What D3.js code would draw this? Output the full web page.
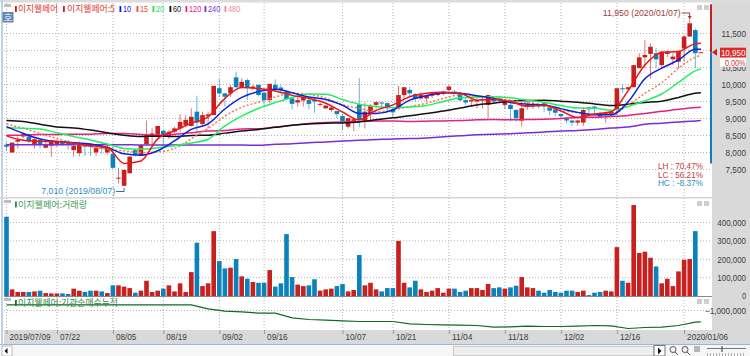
<!DOCTYPE html>
<html>
<meta charset="utf-8">
<head>
  <title>이지웰페어 일봉</title>
</head>
<style>
body { margin: 0; background: #fff; }
svg { display: block; }
text { font-family: "Liberation Sans", sans-serif; font-size: 9px; fill: #333; }
.kr { font-family: "Noto Sans CJK KR", sans-serif; font-size: 9px; }
.axis text { fill: #3c3c3c; font-family: "Liberation Sans", sans-serif; font-size: 9px; }
.axis .domain { display: none; }
.grid { stroke: #b4b4b4; stroke-width: 1; stroke-dasharray: 1,2; fill: none; }
.ma { fill: none; stroke-width: 1.5; }
</style>
<body>
<script src="https://cdnjs.cloudflare.com/ajax/libs/d3/7.8.5/d3.min.js"></script>
<script>

var opens = [8230,8000,8320,8470,8470,8250,8370,8140,8200,8220,8320,8290,8070,7980,8220,8220,8000,8170,8000,7960,
  7230,7020,7390,8070,7900,8240,8490,8520,8640,8490,8610,8710,8810,8780,9200,8840,9070,9100,9890,9740,
  9740,10210,9920,10130,9890,9990,9760,9540,9990,9910,9790,9590,9470,9530,9540,9540,9400,9300,9250,9220,
  9070,8760,8930,9420,8940,9130,9400,9470,9450,9270,9330,9690,9840,9720,9590,9590,9670,9690,9720,9840,
  9790,9740,9540,9500,9500,9540,9400,9590,9590,9400,9400,9250,8940,9350,9350,9400,9450,9330,9270,9130,
  9010,8940,8880,8880,9330,9350,9150,9100,9100,9250,9890,9860,9920,10480,10800,10900,10920,10570,10900,10740,
  10670,11060,11410,11600,10950];
var highs = [8300,8290,8470,8590,8560,8430,8420,8350,8320,8350,8350,8370,8270,8320,8270,8250,8220,8320,8270,8270,
  7550,7490,7880,8120,8220,8940,8710,8780,8660,8650,8760,9130,9100,9300,9670,9200,9200,9960,10160,9740,
  9990,10380,10180,10180,10000,10000,9790,10020,10150,9990,9840,9620,9740,9650,9590,9640,9480,9400,9370,9230,
  9130,9010,8980,10180,9470,9420,9500,9480,9470,9330,9960,9920,9930,9740,9770,9700,9790,9790,9820,9990,
  9840,9790,9600,9590,9600,9640,9700,9640,9640,9560,9450,9280,9540,9500,9500,9450,9480,9350,9290,9150,
  9050,8960,8960,9330,9350,9370,9200,9200,9230,9890,9990,9930,10570,10920,11310,11210,11060,10970,10990,10920,
  10980,11460,11950,11650,10950];
var lows = [8050,8000,8120,8420,8270,8120,8120,8120,7860,8170,8200,8080,7880,7880,7900,7900,7900,7960,7930,7530,
  7090,7010,7390,7880,7900,8220,8220,8520,8170,8400,8560,8610,8760,8760,8610,8760,8710,9100,9640,9350,
  9640,9890,9890,9540,9840,9650,9400,9450,9800,9740,9550,9270,9350,9350,9270,9170,9350,9280,9180,9010,
  8660,8710,8630,8740,8710,8910,9300,9300,9200,9010,9270,9550,9650,9500,9550,9500,9600,9650,9680,9800,
  9700,9500,9400,9350,9300,9300,9005,9450,9450,9280,8910,8910,8760,9250,9280,9300,9200,9100,9060,9030,
  8860,8780,8780,8780,9100,9150,9010,8880,9060,9100,9760,9850,9920,10480,10480,10180,10480,10480,10800,10570,
  10480,10670,11400,10480,10950];
var closes = [8170,8290,8370,8540,8320,8390,8220,8250,8320,8320,8250,8230,8190,8240,8170,8170,8140,8120,8170,7550,
  7260,7490,7880,7930,8220,8520,8560,8780,8470,8610,8710,8900,8960,9050,8880,9100,9120,9960,9740,9640,
  9920,9920,10080,9920,9940,9690,9540,10020,9840,9840,9570,9430,9540,9620,9430,9500,9430,9380,9320,9130,
  8910,9010,8980,8960,9200,9370,9480,9450,9300,9180,9690,9920,9740,9590,9690,9670,9740,9770,9790,9940,
  9740,9540,9470,9540,9540,9570,9690,9500,9540,9500,9280,9010,9300,9400,9400,9350,9350,9230,9170,9070,
  8940,8880,8940,9250,9270,9280,9050,9150,9200,9890,9860,9920,10570,10800,10870,11110,10740,10970,10970,10820,
  10970,11410,11800,10920,10950];
var volumes = [431000,36000,22000,22000,22000,25000,29000,16000,14000,14000,14000,11000,40000,29000,22000,29000,29000,25000,16000,58000,
  58000,51000,43000,18000,29000,83000,22000,29000,40000,58000,25000,69000,22000,130000,290000,54000,69000,353000,190000,150000,
  154000,201000,107000,94000,76000,72000,72000,141000,51000,69000,337000,103000,62000,54000,58000,91000,29000,36000,40000,54000,
  65000,25000,33000,223000,58000,72000,36000,25000,43000,43000,300000,72000,47000,83000,36000,22000,29000,43000,18000,40000,
  40000,22000,29000,43000,43000,33000,65000,43000,47000,40000,47000,56000,103000,47000,43000,29000,18000,33000,22000,18000,
  29000,29000,22000,29000,5000,18000,22000,29000,25000,266000,83000,72000,495000,234000,241000,208000,161000,69000,94000,54000,
  134000,197000,201000,353000,0];

// moving averages read every third session, plus the last one
var ma5 = [8490,8360,8330,8320,8270,8200,8150,7680,7750,8400,8640,8860,9050,9590,9910,
  9880,9810,9680,9590,9450,9190,8960,9240,9400,9640,9740,9770,9740,9540,9560,
  9500,9360,9400,9220,9030,9130,9200,9820,10570,10940,10970,11200,11210];
var ma10 = [8760,8560,8400,8320,8290,8250,8150,7960,7920,8050,8340,8680,8840,9280,9620,
  9790,9860,9760,9630,9560,9390,9150,9150,9250,9540,9670,9760,9740,9670,9590,
  9470,9420,9400,9290,9180,9110,9110,9490,10170,10480,10720,11040,11040];
var ma15 = [8840,8710,8560,8410,8270,8170,8100,8050,8000,8020,8120,8400,8710,9070,9330,
  9480,9630,9740,9710,9600,9400,9300,9200,9250,9350,9450,9590,9690,9640,9610,
  9540,9470,9370,9250,9170,9120,9130,9390,9740,10050,10480,10800,10870];
var ma20 = [8730,8710,8690,8580,8470,8370,8250,8120,8100,8140,8200,8280,8390,8780,9070,
  9300,9470,9620,9720,9710,9560,9420,9350,9320,9340,9380,9500,9610,9630,9640,
  9610,9540,9480,9380,9310,9300,9240,9350,9520,9720,10060,10400,10460];
var ma60 = [8940,8910,8830,8750,8720,8660,8580,8510,8470,8480,8470,8500,8510,8570,8630,
  8680,8740,8800,8840,8860,8870,8900,8960,9020,9080,9150,9220,9310,9400,9450,
  9510,9530,9540,9510,9480,9430,9380,9420,9470,9510,9620,9740,9760];
var ma120 = [8510,8510,8530,8530,8540,8540,8560,8560,8530,8510,8540,8580,8630,8650,8690,
  8700,8750,8800,8850,8880,8900,8910,8930,8930,8910,8920,8930,8940,8960,8970,
  8960,8970,8980,9000,9030,9040,9060,9090,9150,9210,9270,9320,9330];
var ma240 = [8230,8230,8230,8230,8230,8230,8230,8230,8220,8220,8220,8220,8220,8220,8220,
  8210,8240,8260,8290,8310,8340,8360,8380,8400,8410,8430,8460,8490,8520,8540,
  8550,8580,8600,8630,8650,8680,8720,8750,8830,8860,8900,8930,8940];
var instCum = [-720000,-720000,-720000,-720000,-720000,-720000,-720000,-720000,-720000,-720000,-720000,-720000,-920000,-1030000,-1070000,
  -1130000,-1130000,-1370000,-1450000,-1480000,-1520000,-1550000,-1550000,-1550000,-1670000,-1700000,-1720000,-1730000,-1750000,-1830000,
  -1820000,-1780000,-1800000,-1800000,-1780000,-1750000,-1770000,-1900000,-1850000,-1830000,-1750000,-1580000,-1570000];
var maDays = d3.range(0, 124, 3).concat([124]);

var priceTicks = [7500,8000,8500,9000,9500,10000,10500,11000,11500];
var volTicks = [0,100000,200000,300000,400000];
var instTicks = [-1000000];
var dateDays = [0,9,19,28,38,46,60,69,79,89,99,109,121];
var dateLabels = ["2019/07/09","07/22","08/05","08/19","09/02","09/16","10/07","10/21","11/04","11/18","12/02","12/16","2020/01/06"];
var legend = ["10","15","20","60","120","240","480"];
var legendColors = ["#1020d8","#e8502c","#22e060","#111","#e8208a","#7a2cdc","#e88aa0"];

var RED = "#c8201e", BLUE = "#0b82bb";

var x = d3.scaleLinear().domain([0,124]).range([6.5,700.9]);
var y = d3.scaleLinear().domain([7500,11500]).range([169.5,33.5]);
var yVol = d3.scaleLinear().domain([0,400000]).range([296,222.5]);
var yInst = d3.scaleLinear().domain([-1000000,-2000000]).range([310.5,330.5]);

var svg = d3.select("body").append("svg").attr("width",750).attr("height",356);

// window chrome
svg.append("rect").attr("x",712).attr("y",0).attr("width",38).attr("height",345).attr("fill","#d9d9d9");
svg.append("rect").attr("x",0).attr("y",0).attr("width",750).attr("height",2.5).attr("fill","#dcdcdc");
svg.append("rect").attr("x",4).attr("y",330).attr("width",708).attr("height",15).attr("fill","#d9d9d9");
svg.append("rect").attr("x",0).attr("y",345).attr("width",750).attr("height",11).attr("fill","#f6f6f6");
svg.append("line").attr("x1",0).attr("x2",750).attr("y1",344.5).attr("y2",344.5).attr("stroke","#9db7d3");
svg.append("line").attr("x1",2).attr("x2",2).attr("y1",0).attr("y2",345).attr("stroke","#a9c4de").attr("stroke-width",1.5);
svg.append("rect").attr("x",0).attr("y",197).attr("width",712).attr("height",1.5).attr("fill","#d6d6d6");
svg.append("line").attr("x1",4).attr("x2",712).attr("y1",296.5).attr("y2",296.5).attr("stroke","#8a8a8a");

// grids
var grid = svg.append("g");
grid.selectAll(".v").data(dateDays).enter().append("line").attr("class","grid")
  .attr("x1",x).attr("x2",x).attr("y1",3).attr("y2",330);
grid.selectAll(".p").data(priceTicks).enter().append("line").attr("class","grid")
  .attr("x1",4).attr("x2",711).attr("y1",y).attr("y2",y);
grid.selectAll(".vv").data(volTicks.slice(1)).enter().append("line").attr("class","grid")
  .attr("x1",4).attr("x2",711).attr("y1",yVol).attr("y2",yVol);
grid.selectAll(".i").data(instTicks).enter().append("line").attr("class","grid")
  .attr("x1",4).attr("x2",711).attr("y1",yInst).attr("y2",yInst);

// candles
var days = d3.range(opens.length);
function col(i) { return closes[i] >= opens[i] ? RED : BLUE; }

svg.append("g").selectAll("line").data(days).enter().append("line")
  .attr("x1",x).attr("x2",x)
  .attr("y1",function(i){ return y(highs[i]); })
  .attr("y2",function(i){ return y(lows[i]); })
  .attr("stroke",col).attr("stroke-width",1).attr("stroke-opacity",0.6);
svg.append("g").selectAll("rect").data(days).enter().append("rect")
  .attr("x",function(i){ return x(i)-2.3; })
  .attr("width",4.6)
  .attr("y",function(i){ return y(Math.max(opens[i],closes[i])); })
  .attr("height",function(i){ return Math.max(1,Math.abs(y(opens[i])-y(closes[i]))); })
  .attr("fill",col);

// moving averages
var maLine = d3.line()
  .x(function(d,i){ return x(maDays[i]); })
  .y(function(d){ return y(d); })
  .curve(d3.curveMonotoneX);
function addMa(values,color,width,dash) {
  svg.append("path").attr("class","ma").attr("d",maLine(values))
    .attr("stroke",color).attr("stroke-width",width).attr("stroke-dasharray",dash);
}
addMa(ma240,"#7a2cdc",1.5,null);
addMa(ma120,"#e8207e",1.5,null);
addMa(ma60,"#111",1.5,null);
addMa(ma15,"#ea7b55",0.9,"2,2");
addMa(ma20,"#22f060",1.6,null);
addMa(ma10,"#1020d8",1.6,null);
addMa(ma5,"#ee1518",1.6,null);

// volume
svg.append("g").selectAll("rect").data(days).enter().append("rect")
  .attr("x",function(i){ return x(i)-2.3; })
  .attr("width",4.6)
  .attr("y",function(i){ return yVol(volumes[i]); })
  .attr("height",function(i){ return yVol(0)-yVol(volumes[i]); })
  .attr("fill",col);

// institution cumulative line
var instLine = d3.line()
  .x(function(d,i){ return x(maDays[i]); })
  .y(function(d){ return yInst(d); });
svg.append("path").attr("d",instLine(instCum)).attr("fill","none").attr("stroke","#0e6a1e").attr("stroke-width",1.2);

// axes
var fmt = d3.format(",");
svg.append("g").attr("class","axis").attr("transform","translate(746,0)")
  .call(d3.axisLeft(y).tickValues(priceTicks).tickFormat(fmt).tickSize(0).tickPadding(0));
svg.append("g").attr("class","axis").attr("transform","translate(746,0)")
  .call(d3.axisLeft(yVol).tickValues(volTicks).tickFormat(fmt).tickSize(0).tickPadding(0));
svg.append("g").attr("class","axis").attr("transform","translate(746,0)")
  .call(d3.axisLeft(yInst).tickValues(instTicks).tickFormat(fmt).tickSize(0).tickPadding(0));

var dateAxis = svg.append("g").attr("class","axis").attr("transform","translate(0,330)")
  .call(d3.axisBottom(x).tickValues(dateDays).tickFormat(function(d,i){ return dateLabels[i]; }).tickSize(4));
dateAxis.selectAll("line").attr("stroke","#999");
dateAxis.selectAll("text").attr("text-anchor","start").attr("x",2.5).attr("y",4).attr("dy","0.71em");

// high-low range bar beside the price axis
svg.append("line").attr("x1",711).attr("x2",711).attr("y1",y(11950)-14).attr("y2",y(closes[124]))
  .attr("stroke",RED).attr("stroke-width",2);
svg.append("line").attr("x1",711).attr("x2",711).attr("y1",y(closes[124])).attr("y2",y(7500)-6)
  .attr("stroke",BLUE).attr("stroke-width",2);
svg.append("path").attr("d",d3.line()([[712,y(closes[124])],[717,y(closes[124])-3.5],[717,y(closes[124])+3.5]])).attr("fill",RED);
svg.append("rect").attr("x",720).attr("y",y(closes[124])-4.5).attr("width",26).attr("height",10).attr("fill","#e02a28");
svg.append("text").attr("x",745.5).attr("y",y(closes[124])+3.7).attr("text-anchor","end").style("fill","#fff").text("10,950");
svg.append("rect").attr("x",720).attr("y",y(closes[124])+5.5).attr("width",26).attr("height",9).attr("fill","#fff");
svg.append("text").attr("x",745.5).attr("y",y(closes[124])+13.3).attr("text-anchor","end").style("fill","#d83030").text("0.00%");

// high and low notes
svg.append("text").attr("x",x(122)-9).attr("y",16).attr("text-anchor","end").style("fill","#a83a3a").text("11,950 (2020/01/07)");
svg.append("path").attr("d",d3.line()([[x(122)-8,13],[x(122),13],[x(122),17]])).attr("fill","none").attr("stroke","#a83a3a");
svg.append("path").attr("d",d3.line()([[x(122)-2,16],[x(122)+2,16],[x(122),19]])).attr("fill","#a83a3a");
svg.append("text").attr("x",x(21)-9).attr("y",193.5).attr("text-anchor","end").style("fill","#2a8fbf").text("7,010 (2019/08/07)");
svg.append("path").attr("d",d3.line()([[x(21)-8,191.5],[x(21),191.5],[x(21),188]])).attr("fill","none").attr("stroke","#2a6f9f");

// LH LC HC
var ratioLabels = ["LH : 70.47%","LC : 56.21%","HC : -8.37%"];
var ratioColors = ["#c83a3a","#c83a3a","#2a8fbf"];
svg.append("g").selectAll("text").data(ratioLabels).enter().append("text")
  .attr("x",703).attr("y",function(d,i){ return 169+i*8.5; }).attr("text-anchor","end")
  .style("fill",function(d,i){ return ratioColors[i]; }).text(function(d){ return d; });

// legends
function mark(px,py,c) { svg.append("rect").attr("x",px).attr("y",py-3).attr("width",1.8).attr("height",6).attr("fill",c); }
function label(px,py,c,t,cls,w) {
  svg.append("text").attr("class",cls).attr("x",px).attr("y",py+3.3).attr("data-w",w).style("fill",c).text(t);
}
mark(15,9,"#d01818"); label(18,9,"#e03838","이지웰페어","kr",40);
mark(63,9,"#d01818"); label(67,9,"#e03838","이지웰페어:5","kr",48);
var legendX = [123,140,156,173,189,208,228];
legend.forEach(function(t,i){
  mark(legendX[i]-3.5,9,legendColors[i]);
  label(legendX[i],9,legendColors[i],t);
});
mark(15,204.5,"#2e8a44"); label(18,204.5,"#3e9a56","이지웰페어:거래량","kr",69);
mark(15,303,"#176e2c"); label(18,303,"#2e8a44","이지웰페어:기관순매수누적","kr",100);

// panel buttons
var panelTops = [4,200,298];
panelTops.forEach(function(t){
  svg.append("rect").attr("x",4).attr("y",t).attr("width",7).attr("height",3).attr("fill","#bdbdbd");
  svg.append("rect").attr("x",697).attr("y",t+1).attr("width",5).attr("height",5).attr("fill","#cfcfcf");
  svg.append("rect").attr("x",704).attr("y",t+1).attr("width",5).attr("height",5).attr("fill","#cfcfcf");
});
svg.append("rect").attr("x",2.5).attr("y",12).attr("width",11).attr("height",10.5).attr("fill","#5b86b2");
svg.append("text").attr("class","kr").attr("x",3.5).attr("y",20.8).attr("data-w",9).style("fill","#fff").text("호");

// bottom bar
svg.append("rect").attr("x",2).attr("y",346).attr("width",10).attr("height",10).attr("fill","#fff").attr("stroke","#bbb");
svg.append("path").attr("d","M4.5 351l3-3v6z").attr("fill","#111");
svg.append("rect").attr("x",453.5).attr("y",346.5).attr("width",200).attr("height",9).attr("fill","#eee").attr("stroke","#ccc");
svg.append("rect").attr("x",654).attr("y",345.5).attr("width",11).attr("height",10.5).attr("fill","#fff").attr("stroke","#777");
svg.append("path").attr("d","M658 347.5l3.5 3.5l-3.5 3.5z").attr("fill","#111");
[673,685].forEach(function(c){
  svg.append("circle").attr("cx",c).attr("cy",349.5).attr("r",3).attr("fill","none").attr("stroke","#555");
  svg.append("line").attr("x1",c+2).attr("x2",c+5).attr("y1",352).attr("y2",355).attr("stroke","#555");
});
[695,697,699].forEach(function(c){
  svg.append("line").attr("x1",c).attr("x2",c).attr("y1",346).attr("y2",352).attr("stroke","#777");
});
svg.append("line").attr("x1",707).attr("x2",746).attr("y1",348.5).attr("y2",348.5).attr("stroke","#777");
svg.append("line").attr("x1",722).attr("x2",722).attr("y1",346).attr("y2",352).attr("stroke","#333");
svg.append("line").attr("x1",707).attr("x2",746).attr("y1",354.5).attr("y2",354.5).attr("stroke","#999").attr("stroke-dasharray","1,2").attr("stroke-width",2);

// the chart's font is a half-width one: every latin character takes 4.1px.
// textLength ignores the end anchor, so right-aligned labels get a start position
svg.selectAll("text").each(function(){
  var t = d3.select(this);
  var w = t.attr("data-w") ? +t.attr("data-w") : t.text().length * 4.1;
  if (getComputedStyle(this).textAnchor === "end") {
    t.attr("x",(+t.attr("x")||0) - w).attr("text-anchor","start");
  }
  t.attr("textLength",w).attr("lengthAdjust","spacingAndGlyphs");
});

</script>
</body>
</html>
